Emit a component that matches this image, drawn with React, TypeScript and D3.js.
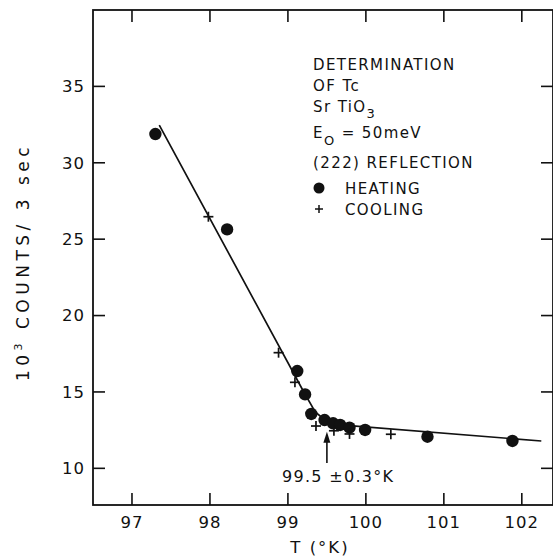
import React, { useEffect, useRef } from "react";
import * as d3 from "d3";

// heating run (filled dots)
const heatingT = [97.3, 98.22, 99.12, 99.22, 99.3, 99.47, 99.58, 99.67, 99.79, 99.99, 100.79, 101.88];
const heatingCounts = [31.88, 25.64, 16.37, 14.84, 13.56, 13.16, 12.95, 12.84, 12.66, 12.51, 12.07, 11.79];

// cooling run (crosses)
const coolingT = [97.98, 98.88, 99.09, 99.36, 99.59, 99.79, 100.32];
const coolingCounts = [26.47, 17.57, 15.63, 12.77, 12.46, 12.25, 12.23];

// hand drawn fit through the points
const fitT = [97.35, 99.2, 99.35, 99.5, 99.67, 102.25];
const fitCounts = [32.47, 15.03, 13.7, 13.05, 12.84, 11.79];

const xTicks = [97, 98, 99, 100, 101, 102];
const yTicks = [10, 15, 20, 25, 30, 35];

const tc = 99.5;

export default function App() {
  const ref = useRef<SVGSVGElement>(null);

  useEffect(() => {
    const W = 553, H = 557;
    const m = { left: 93, right: 0, top: 10, bottom: 52 };
    const svg = d3.select(ref.current);
    svg.selectAll("*").remove();

    const x = d3.scaleLinear().domain([96.5, 102.4]).range([m.left, W - m.right]);
    const y = d3.scaleLinear().domain([7.6, 40]).range([H - m.bottom, m.top]);

    const font = "DejaVu Sans, sans-serif";
    const ink = "#111";

    // frame
    svg.append("rect")
      .attr("x", x(96.5)).attr("y", y(40))
      .attr("width", x(102.4) - x(96.5)).attr("height", y(7.6) - y(40))
      .attr("fill", "none").attr("stroke", ink).attr("stroke-width", 1.8);

    // inward ticks, all four sides
    const tk = 12;
    const g = svg.append("g").attr("stroke", ink).attr("stroke-width", 1.6);
    xTicks.forEach(t => {
      g.append("line").attr("x1", x(t)).attr("x2", x(t)).attr("y1", y(7.6)).attr("y2", y(7.6) - tk);
      g.append("line").attr("x1", x(t)).attr("x2", x(t)).attr("y1", y(40)).attr("y2", y(40) + tk);
    });
    yTicks.forEach(v => {
      g.append("line").attr("x1", x(96.5)).attr("x2", x(96.5) + tk).attr("y1", y(v)).attr("y2", y(v));
      g.append("line").attr("x1", x(102.4)).attr("x2", x(102.4) - tk).attr("y1", y(v)).attr("y2", y(v));
    });

    // tick labels
    svg.append("g").selectAll("text").data(xTicks).join("text")
      .attr("x", d => x(d)).attr("y", 528)
      .attr("text-anchor", "middle")
      .attr("font-family", font).attr("font-size", 16.5).attr("letter-spacing", 1)
      .attr("fill", ink)
      .text(d => d);
    svg.append("g").selectAll("text").data(yTicks).join("text")
      .attr("x", 85).attr("y", d => y(d)).attr("dy", "0.36em")
      .attr("text-anchor", "end")
      .attr("font-family", font).attr("font-size", 16.5).attr("letter-spacing", 1)
      .attr("fill", ink)
      .text(d => d);

    // axis titles
    svg.append("text")
      .attr("x", 320).attr("y", 553)
      .attr("text-anchor", "middle")
      .attr("font-family", font).attr("font-size", 16.5).attr("letter-spacing", 2)
      .attr("fill", ink)
      .text("T (°K)");

    const yl = svg.append("text")
      .attr("transform", "translate(29,262) rotate(-90)")
      .attr("text-anchor", "middle")
      .attr("font-family", font).attr("font-size", 17).attr("letter-spacing", 4.5)
      .attr("fill", ink);
    yl.append("tspan").text("10");
    yl.append("tspan").attr("dy", -7).attr("font-size", 11).text("3");
    yl.append("tspan").attr("dy", 7).text(" COUNTS/ 3 sec");

    // fit line
    const line = d3.line<number>()
      .x((_, i) => x(fitT[i]))
      .y(d => y(d));
    svg.append("path")
      .datum(fitCounts)
      .attr("d", line)
      .attr("fill", "none").attr("stroke", ink).attr("stroke-width", 1.7)
      .attr("stroke-linejoin", "round");

    // heating dots
    svg.append("g").selectAll("circle").data(heatingCounts).join("circle")
      .attr("cx", (_, i) => x(heatingT[i]))
      .attr("cy", d => y(d))
      .attr("r", 6.2)
      .attr("fill", ink);

    // cooling crosses
    const cr = 5;
    const cg = svg.append("g").attr("stroke", ink).attr("stroke-width", 1.7);
    coolingCounts.forEach((v, i) => {
      const cx = x(coolingT[i]), cy = y(v);
      cg.append("line").attr("x1", cx - cr).attr("x2", cx + cr).attr("y1", cy).attr("y2", cy);
      cg.append("line").attr("x1", cx).attr("x2", cx).attr("y1", cy - cr).attr("y2", cy + cr);
    });

    // Tc arrow
    const ax = x(tc);
    svg.append("line")
      .attr("x1", ax).attr("x2", ax).attr("y1", y(10.35)).attr("y2", y(12.1))
      .attr("stroke", ink).attr("stroke-width", 1.6);
    svg.append("path")
      .attr("d", `M${ax},${y(12.4)} L${ax - 3.5},${y(12.4) + 11} L${ax + 3.5},${y(12.4) + 11} Z`)
      .attr("fill", ink);
    svg.append("text")
      .attr("x", 282).attr("y", 482)
      .attr("font-family", font).attr("font-size", 16).attr("letter-spacing", 1.3)
      .attr("fill", ink)
      .text("99.5 ±0.3°K");

    // legend block
    const lx = 313;
    const leg = svg.append("g")
      .attr("font-family", font).attr("font-size", 15).attr("letter-spacing", 1.4)
      .attr("fill", ink);
    leg.append("text").attr("x", lx).attr("y", 70).text("DETERMINATION");
    leg.append("text").attr("x", lx).attr("y", 91).text("OF  Tc");
    const sr = leg.append("text").attr("x", lx).attr("y", 112);
    sr.append("tspan").text("Sr TiO");
    sr.append("tspan").attr("dy", 6).attr("font-size", 13).text("3");
    const e0 = leg.append("text").attr("x", lx).attr("y", 138);
    e0.append("tspan").text("E");
    e0.append("tspan").attr("dy", 7).attr("font-size", 13).text("O");
    e0.append("tspan").attr("dy", -7).text(" = 50meV");
    leg.append("text").attr("x", lx).attr("y", 168).text("(222) REFLECTION");
    leg.append("circle").attr("cx", 319).attr("cy", 188).attr("r", 5.5).attr("fill", ink);
    leg.append("text").attr("x", 345).attr("y", 194).text("HEATING");
    leg.append("line").attr("x1", 315).attr("x2", 323).attr("y1", 209).attr("y2", 209)
      .attr("stroke", ink).attr("stroke-width", 1.5);
    leg.append("line").attr("x1", 319).attr("x2", 319).attr("y1", 205).attr("y2", 213)
      .attr("stroke", ink).attr("stroke-width", 1.5);
    leg.append("text").attr("x", 345).attr("y", 215).text("COOLING");
  }, []);

  return (
    <svg
      ref={ref}
      width={553}
      height={557}
      style={{ position: "absolute", left: 0, top: 0, background: "#fff" }}
    />
  );
}
